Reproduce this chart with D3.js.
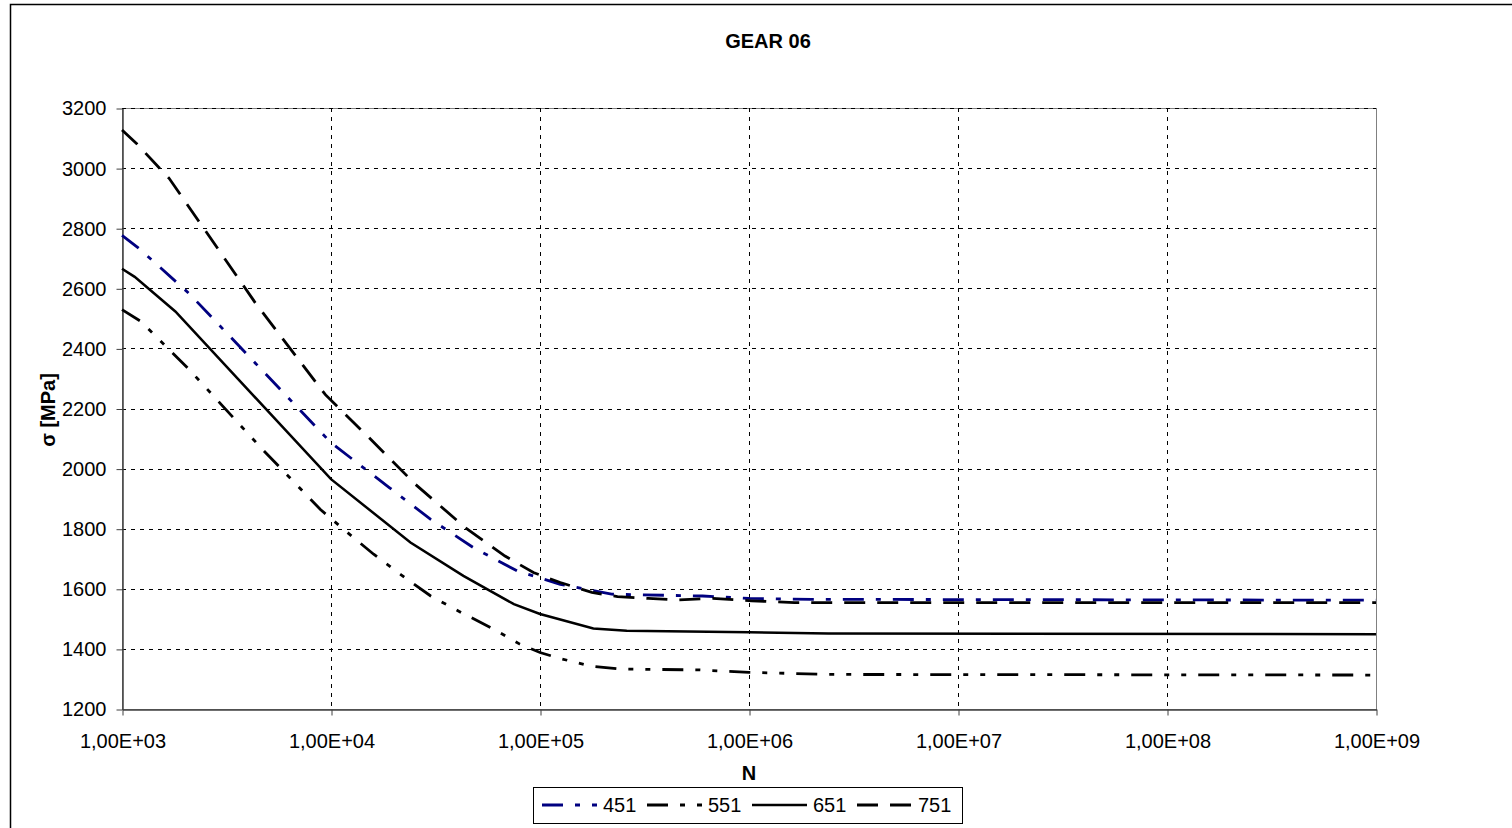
<!DOCTYPE html>
<html>
<head>
<meta charset="utf-8">
<script src="https://cdn.jsdelivr.net/npm/d3@7"></script>
<style>
  body { margin: 0; background: #fff; }
  text { font-family: Arial, "Liberation Sans", sans-serif; }
</style>
</head>
<body>
<svg width="1512" height="828"></svg>
<script>
const svg = d3.select('svg');

// data
const seriesNames = ['451', '551', '651', '751'];

const n451 = [1e3, 1.2e3, 2.1e3, 1e4, 1.9e4, 3e4, 4.8e4, 7.8e4, 1.25e5, 2.2e5, 6e5, 1e6, 2e6, 1e9];
const s451 = [2776, 2734, 2582, 2086, 1937, 1831, 1737, 1659, 1615, 1582, 1576, 1568, 1565, 1562];

const n551 = [1e3, 1.23e3, 2.1e3, 4.7e3, 8.9e3, 1.2e4, 1.6e4, 2.15e4, 3e4, 4.2e4, 6e4, 8e4, 1e5, 1.25e5, 1.77e5, 2.4e5, 5.8e5, 1e6, 2.4e6, 1e9];
const s551 = [2529, 2490, 2329, 2064, 1864, 1787, 1715, 1648, 1576, 1521, 1466, 1416, 1388, 1368, 1342, 1333, 1330, 1322, 1315, 1313];

const n651 = [1e3, 1.15e3, 1.8e3, 1e4, 2.4e4, 4.3e4, 7.5e4, 1e5, 1.8e5, 2.6e5, 1e6, 2.4e6, 1e9];
const s651 = [2665, 2638, 2523, 1965, 1754, 1643, 1549, 1516, 1468, 1460, 1455, 1451, 1449];

const n751 = [1e3, 1.18e3, 1.68e3, 4.35e3, 9.4e3, 1.52e4, 2.54e4, 4.4e4, 6.8e4, 9.3e4, 1.25e5, 1.77e5, 2.35e5, 3.3e5, 4.6e5, 6.7e5, 1.03e6, 1.65e6, 1e9];
const s751 = [3127, 3080, 2966, 2551, 2246, 2103, 1947, 1803, 1709, 1654, 1621, 1588, 1574, 1568, 1563, 1568, 1560, 1554, 1554];

const xTicks = [1e3, 1e4, 1e5, 1e6, 1e7, 1e8, 1e9];
const xLabels = ['1,00E+03', '1,00E+04', '1,00E+05', '1,00E+06', '1,00E+07', '1,00E+08', '1,00E+09'];
const yTicks = [1200, 1400, 1600, 1800, 2000, 2200, 2400, 2600, 2800, 3000, 3200];

const series = [
  {name: seriesNames[0], n: n451, s: s451, color: '#000080', width: 2.8, dash: '21,12,5,12'},
  {name: seriesNames[1], n: n551, s: s551, color: '#000', width: 2.8, dash: '21,12,5,12,5,12'},
  {name: seriesNames[2], n: n651, s: s651, color: '#000', width: 2.5, dash: null},
  {name: seriesNames[3], n: n751, s: s751, color: '#000', width: 2.8, dash: '21,12'}
];

const plotL = 122, plotR = 1376, plotT = 108, plotB = 709;

const x = d3.scaleLog().domain([1e3, 1e9]).range([plotL, plotR]);
const y = d3.scaleLinear().domain([1200, 3200]).range([plotB, plotT]);

// outer chart border (runs off the page right and bottom)
svg.append('rect')
  .attr('x', 10.5).attr('y', 4.5)
  .attr('width', 1530).attr('height', 840)
  .attr('fill', 'none').attr('stroke', '#000').attr('stroke-width', 1.5);

// plot area border
svg.append('rect')
  .attr('x', plotL + 0.5).attr('y', plotT + 0.5)
  .attr('width', plotR - plotL).attr('height', plotB - plotT)
  .attr('fill', 'none').attr('stroke', '#808080');

// grid
svg.append('g').selectAll('line').data(yTicks.slice(1))
  .enter().append('line')
    .attr('x1', plotL).attr('x2', plotR)
    .attr('y1', d => Math.round(y(d)) + 0.5)
    .attr('y2', d => Math.round(y(d)) + 0.5)
    .attr('stroke', '#000').attr('stroke-dasharray', '4,5');

svg.append('g').selectAll('line').data(xTicks.slice(1, -1))
  .enter().append('line')
    .attr('y1', plotT).attr('y2', plotB)
    .attr('x1', d => Math.round(x(d)) + 0.5)
    .attr('x2', d => Math.round(x(d)) + 0.5)
    .attr('stroke', '#000').attr('stroke-dasharray', '4,5');

// axes
const yAxis = svg.append('g')
  .attr('transform', `translate(${plotL + 0.5},0.5)`)
  .call(d3.axisLeft(y).tickValues(yTicks).tickSize(6).tickSizeOuter(0).tickPadding(10).tickFormat(d => d));

const xAxis = svg.append('g')
  .attr('transform', `translate(0.5,${plotB + 0.5})`)
  .call(d3.axisBottom(x).tickValues(xTicks).tickSize(6).tickSizeOuter(0).tickPadding(18)
    .tickFormat((d, i) => xLabels[i]));

[yAxis, xAxis].forEach(a => {
  a.select('.domain').attr('stroke', '#404040').attr('stroke-width', 1.5);
  a.selectAll('.tick line').attr('stroke', '#404040');
  a.selectAll('.tick text')
    .attr('fill', '#000')
    .attr('font-size', '20px')
    .attr('font-family', 'Arial, "Liberation Sans", sans-serif');
});

// lines
const line = d3.line()
  .x(d => x(d[0]))
  .y(d => y(d[1]));

svg.append('g').selectAll('path').data(series)
  .enter().append('path')
    .attr('d', d => line(d.n.map((n, i) => [n, d.s[i]])))
    .attr('fill', 'none')
    .attr('stroke', d => d.color)
    .attr('stroke-width', d => d.width)
    .attr('stroke-dasharray', d => d.dash);

// titles
svg.append('text')
  .text('GEAR 06')
  .attr('x', 768).attr('y', 48)
  .attr('text-anchor', 'middle')
  .attr('font-weight', 'bold')
  .attr('font-size', '20px');

svg.append('text')
  .text('N')
  .attr('x', (plotL + plotR) / 2).attr('y', 780)
  .attr('text-anchor', 'middle')
  .attr('font-weight', 'bold')
  .attr('font-size', '20px');

svg.append('text')
  .text('σ [MPa]')
  .attr('transform', 'translate(48,410) rotate(-90)')
  .attr('text-anchor', 'middle')
  .attr('dy', '0.35em')
  .attr('font-weight', 'bold')
  .attr('font-size', '20px');

// legend
const legend = svg.append('g');
legend.append('rect')
  .attr('x', 533.5).attr('y', 787.5)
  .attr('width', 429).attr('height', 36)
  .attr('fill', '#fff').attr('stroke', '#000');

const item = legend.selectAll('g.item').data(series)
  .enter().append('g')
    .attr('class', 'item')
    .attr('transform', (d, i) => `translate(${542 + i * 105},805)`);

item.append('line')
  .attr('x1', 0).attr('x2', 55)
  .attr('stroke', d => d.color)
  .attr('stroke-width', d => d.width)
  .attr('stroke-dasharray', d => d.dash);

item.append('text')
  .text(d => d.name)
  .attr('x', 61)
  .attr('dy', '0.35em')
  .attr('font-size', '20px');
</script>
</body>
</html>
